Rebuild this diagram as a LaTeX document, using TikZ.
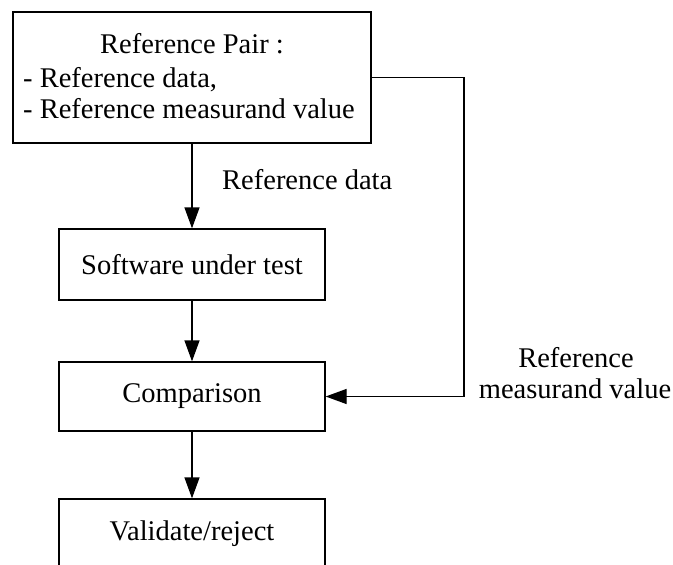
\documentclass[tikz,border=0pt]{standalone}
\usepackage{fontspec}
\setmainfont{Liberation Serif}
\usetikzlibrary{arrows.meta}
\begin{document}
\begin{tikzpicture}[x=1pt,y=-1pt,
  every node/.style={font=\fontsize{28.5}{31}\selectfont, inner sep=0pt},
  box/.style={draw, line width=1.3pt, minimum width=266pt, minimum height=70pt},
  flow/.style={line width=1.3pt, -{Triangle[length=21pt,width=15pt]}}]
\clip (0,0) rectangle (673,565);
\fill[white] (0,0) rectangle (673,565);
% boxes
\node[draw, line width=1.3pt, minimum width=358pt, minimum height=131pt] (pair) at (192,77.5) {};
\node[anchor=base] (title) at (192,53) {Reference Pair :};
\node[anchor=base west] (l2) at (23,87) {- Reference data,};
\node[anchor=base west] (l3) at (23,118) {- Reference measurand value};
\node[box, minimum height=71pt] (sut) at (192,264.5) {Software under test};
\node[box, minimum height=69pt] (cmp) at (192,396.5) {Comparison};
\node[box] (val) at (192,534) {Validate/reject};
% labels
\node[anchor=base west] (rd) at (222,189) {Reference data};
\node[anchor=base] (rmv1) at (576,367) {Reference};
\node[anchor=base] (rmv2) at (575,398) {measurand value};
% connectors
\coordinate (corner1) at (464,77.5);
\coordinate (corner2) at (464,396.5);
\draw[flow] (pair.south) -- (sut.north);
\draw[flow] (sut.south) -- (cmp.north);
\draw[flow] (cmp.south) -- (val.north);
\draw[flow] (pair.east) -- (corner1) -- (corner2) -- (cmp.east);
\end{tikzpicture}
\end{document}
